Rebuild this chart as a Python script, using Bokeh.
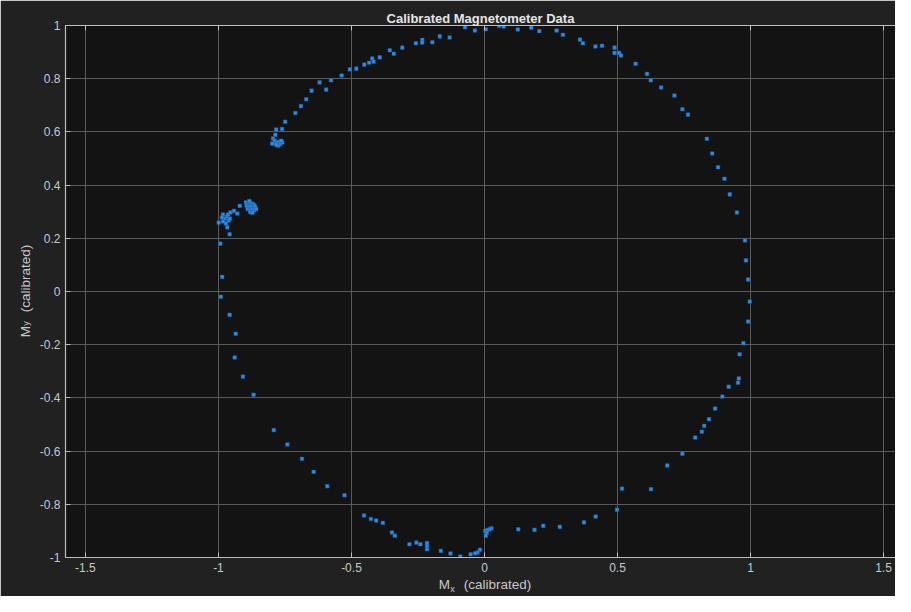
from bokeh.plotting import figure
from bokeh.models import Range1d, FixedTicker, LinearAxis
from bokeh.embed import file_html
from bokeh.resources import INLINE

# Calibrated magnetometer readings
mx = [-0.792, -0.868, -0.908, -0.939, -0.935, -0.958, -0.991, -0.986, -0.993,
      -0.999, -0.967, -0.958,
      -0.983, -0.976, -0.968, -0.961, -0.983, -0.972, -0.964, -0.957, -0.987,
      -0.955, -0.942, -0.929, -0.920,
      -0.897, -0.888, -0.880, -0.872, -0.866, -0.894, -0.885, -0.876, -0.868, -0.862,
      -0.890, -0.882, -0.874, -0.866, -0.880, -0.872, -0.884, -0.858,
      -0.795, -0.789, -0.798, -0.783, -0.773, -0.768, -0.760, -0.776, -0.783, -0.764,
      -0.786, -0.783, -0.761, -0.749, -0.711, -0.690, -0.670, -0.650, -0.620, -0.595,
      -0.577, -0.537, -0.506, -0.482, -0.452, -0.434, -0.422, -0.417, -0.394, -0.356,
      -0.341, -0.309, -0.258, -0.234, -0.234, -0.196, -0.168, -0.131, -0.073, -0.036,
      0.005, 0.055, 0.072, 0.125, 0.176, 0.206, 0.271, 0.295, 0.359, 0.370,
      0.417, 0.442, 0.489, 0.489, 0.506, 0.513, 0.568, 0.611, 0.625, 0.664,
      0.714, 0.744, 0.765, 0.836, 0.856, 0.878, 0.902, 0.922, 0.949, 0.979,
      0.983, 0.991, 0.997, 0.991, 0.973, 0.959, 0.956, 0.953, 0.918, 0.894,
      0.867, 0.844, 0.826, 0.817, 0.792, 0.744, 0.687, 0.626, 0.517, 0.498,
      0.418, 0.374, 0.283, 0.221, 0.188, 0.127,
      0.026, 0.020, 0.012, 0.003, 0.008, 0.005,
      -0.017, -0.026, -0.035, -0.052, -0.091, -0.128, -0.164, -0.216, -0.216, -0.216,
      -0.241, -0.256, -0.282, -0.337, -0.348, -0.382, -0.407, -0.427, -0.453, -0.526,
      -0.591, -0.642, -0.686, -0.741]
my = [-0.521, -0.388, -0.320, -0.248, -0.159, -0.088, -0.020, 0.055, 0.180,
      0.259, 0.241, 0.215,
      0.289, 0.274, 0.282, 0.267, 0.263, 0.256, 0.289, 0.274, 0.278,
      0.297, 0.303, 0.293, 0.322,
      0.335, 0.330, 0.333, 0.330, 0.325, 0.322, 0.318, 0.320, 0.316, 0.318,
      0.310, 0.306, 0.308, 0.305, 0.298, 0.296, 0.340, 0.310,
      0.575, 0.567, 0.556, 0.560, 0.563, 0.554, 0.560, 0.548, 0.552, 0.567,
      0.589, 0.609, 0.611, 0.638, 0.671, 0.697, 0.723, 0.755, 0.786, 0.759,
      0.794, 0.812, 0.835, 0.838, 0.853, 0.860, 0.876, 0.864, 0.880, 0.907,
      0.894, 0.917, 0.933, 0.946, 0.936, 0.937, 0.959, 0.955, 0.994, 0.981,
      0.986, 0.999, 0.996, 0.985, 0.992, 0.979, 0.981, 0.965, 0.947, 0.933,
      0.921, 0.924, 0.917, 0.897, 0.897, 0.887, 0.856, 0.818, 0.794, 0.767,
      0.737, 0.685, 0.665, 0.574, 0.519, 0.467, 0.424, 0.365, 0.297, 0.192,
      0.117, 0.045, -0.038, -0.113, -0.194, -0.236, -0.327, -0.343, -0.358, -0.395,
      -0.440, -0.480, -0.505, -0.527, -0.549, -0.610, -0.654, -0.743, -0.741, -0.820,
      -0.846, -0.868, -0.885, -0.881, -0.896, -0.894,
      -0.890, -0.894, -0.896, -0.900, -0.908, -0.918,
      -0.971, -0.981, -0.984, -0.988, -0.996, -0.985, -0.975, -0.969, -0.957, -0.946,
      -0.950, -0.944, -0.950, -0.918, -0.906, -0.870, -0.861, -0.855, -0.842, -0.766,
      -0.732, -0.678, -0.629, -0.575]

x_ticks = [-1.5, -1.0, -0.5, 0.0, 0.5, 1.0, 1.5]
x_tick_labels = ["-1.5", "-1", "-0.5", "0", "0.5", "1", "1.5"]
y_ticks = [-1.0, -0.8, -0.6, -0.4, -0.2, 0.0, 0.2, 0.4, 0.6, 0.8, 1.0]
y_tick_labels = ["-1", "-0.8", "-0.6", "-0.4", "-0.2", "0", "0.2", "0.4", "0.6", "0.8", "1"]

title_text = "Calibrated Magnetometer Data"
x_label_parts = ["M", "(calibrated)"]
x_label_sub = "x"
y_label_parts = ["M", "(calibrated)"]
y_label_sub = "y"

FONT = "Liberation Sans"
TXT = "#c8c8c8"
AX = "#bdbdbd"

# where the pieces of the axis titles sit along their axis (label placement)
PART_POS = [-0.151, 0.049]
SUB_POS = [-0.120]

p = figure(width=895, height=596,
           x_range=Range1d(-1.575, 1.545), y_range=Range1d(-1.0, 1.0),
           output_backend="svg", toolbar_location=None,
           min_border_left=65, min_border_right=0, min_border_top=25, min_border_bottom=39,
           background_fill_color="#131313", border_fill_color="#212121")
p.outline_line_color = None

p.title.text = title_text
p.title.align = "center"
p.title.offset = 4
p.title.text_font = FONT
p.title.text_font_size = "13px"
p.title.text_font_style = "bold"
p.title.text_color = "#e6e6e6"
p.title.standoff = 0

main_x = p.xaxis[0]
main_y = p.yaxis[0]
top_axis = LinearAxis()
p.add_layout(top_axis, "above")

for ax, ticks, labels in ((main_x, x_ticks, x_tick_labels), (top_axis, x_ticks, x_tick_labels),
                          (main_y, y_ticks, y_tick_labels)):
    ax.ticker = FixedTicker(ticks=ticks)
    ax.major_label_overrides = {t: s for t, s in zip(ticks, labels)}
    ax.axis_line_color = AX
    ax.axis_line_width = 1.2
    ax.major_tick_line_color = AX
    ax.major_tick_in = 5
    ax.major_tick_out = 0
    ax.minor_tick_line_color = None
    ax.major_label_text_color = TXT
    ax.major_label_text_font = FONT
    ax.major_label_text_font_size = "12px"
    ax.major_label_standoff = 5

top_axis.major_label_text_font_size = "1px"
top_axis.major_label_text_alpha = 0
top_axis.major_label_standoff = 0

p.xgrid.ticker = FixedTicker(ticks=x_ticks)
p.ygrid.ticker = FixedTicker(ticks=y_ticks)
for g in (p.xgrid[0], p.ygrid[0]):
    g.grid_line_color = "#5a5a5a"
    g.grid_line_width = 1


def title_axis(pos, texts, size, standoff, orientation):
    return LinearAxis(ticker=FixedTicker(ticks=pos),
                      major_label_overrides={t: s for t, s in zip(pos, texts)},
                      axis_line_color=None, major_tick_line_color=None,
                      minor_tick_line_color=None, major_tick_in=0, major_tick_out=0,
                      major_label_text_font=FONT, major_label_text_font_size=size,
                      major_label_text_color=TXT, major_label_standoff=standoff,
                      major_label_orientation=orientation)


# x axis title: "M" + subscript "x" + "(calibrated)"
p.add_layout(title_axis(PART_POS, x_label_parts, "13.5px", 2, "horizontal"), "below")
p.add_layout(title_axis(SUB_POS, [x_label_sub], "9px", -11, "horizontal"), "below")
# y axis title: "M" + subscript "y" + "(calibrated)", reading upwards
p.add_layout(title_axis(PART_POS, y_label_parts, "13.5px", 3, "vertical"), "left")
p.add_layout(title_axis(SUB_POS, [y_label_sub], "9px", -16, "vertical"), "left")

p.scatter(mx, my, marker="square", size=3.6, fill_color="#2e8de6",
          line_color="#1f5f9e", line_width=0.5)

html = file_html(p, INLINE, title=title_text)
html = html.replace("<body>", '<body style="background-color:#111111;">', 1)
open("out.html", "w").write(html)
